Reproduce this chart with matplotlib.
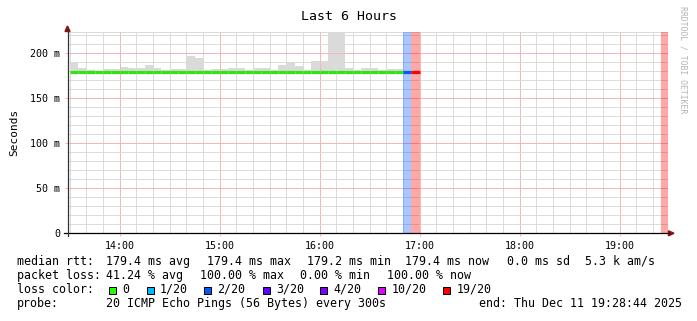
import matplotlib
matplotlib.use("Agg")
import matplotlib.pyplot as plt
import matplotlib.dates as mdates
from matplotlib.patches import Rectangle, Polygon
from matplotlib.lines import Line2D
from matplotlib.collections import LineCollection
from matplotlib.ticker import MultipleLocator, FixedLocator
import pandas as pd
import numpy as np

# ---------------- data ----------------
title = "Last 6 Hours"
end_time = pd.Timestamp("2025-12-11 19:28:44")
window_hours = 6
bin_minutes = 5

# 5-minute bins with measurements, starting 13:30
bin_times = pd.date_range("2025-12-11 13:30", periods=42, freq="5min")
smoke_max_ms = [189, 184, 181, 180.5, 183, 182, 184.5, 184, 183.5, 187,
                183.5, 181.5, 182, 182, 197.5, 194.5, 181, 182.3, 182.3, 183.7,
                184, 181.5, 184, 184, 181, 187, 190, 185.5, 181, 191,
                191, 230, 230, 184, 181, 184, 184, 181, 183, 182,
                180, 180]
smoke_min_ms = [179.0] * 42
median_ms = [179.4, 179.4, 179.4, 179.4, 179.4, 179.4, 179.4, 179.4, 179.4, 179.4,
             179.4, 179.4, 179.4, 179.4, 179.4, 179.4, 179.4, 179.4, 179.4, 179.4,
             179.4, 179.4, 179.4, 179.4, 179.4, 179.4, 179.4, 179.4, 179.4, 179.4,
             179.4, 179.4, 179.4, 179.4, 179.4, 179.4, 179.4, 179.4, 179.4, 179.4,
             179.4, 179.4]
loss_pings = [0] * 40 + [2, 19]
# later bin with total loss (no rtt)
late_loss_time = pd.Timestamp("2025-12-11 19:25")
late_loss_pings = 20

loss_levels = [0, 1, 2, 3, 4, 10, 19]
loss_labels = ["0", "1/20", "2/20", "3/20", "4/20", "10/20", "19/20"]
loss_colors = ["#26ff00", "#00b8ff", "#0059ff", "#5e00ff", "#7e00ff", "#dd00ff", "#ff0000"]

yticks_ms = [0, 50, 100, 150, 200]
ytick_labels = ["0", "50 m", "100 m", "150 m", "200 m"]

legend_line1 = [("median rtt:", 17), ("179.4 ms avg", 106.5), ("179.4 ms max", 207),
                ("179.2 ms min", 307), ("179.4 ms now", 405), ("0.0 ms sd", 507),
                ("5.3 k am/s", 585)]
legend_line2 = [("packet loss:", 17), ("41.24 % avg", 106.5), ("100.00 % max", 200),
                ("0.00 % min", 300), ("100.00 % now", 386.5)]
legend_line4 = [("probe:", 17), ("20 ICMP Echo Pings (56 Bytes) every 300s", 106.5),
                ("end: Thu Dec 11 19:28:44 2025", 479)]
square_x = [109.3, 146.7, 204, 262.7, 320.3, 378.3, 443.3]

# ---------------- layout ----------------
W, H = 697, 321
MONO = "DejaVu Sans Mono"
fig = plt.figure(figsize=(W / 100, H / 100), dpi=100)
fig.patch.set_facecolor("white")


def fx(px):
    return px / W


def fy(py):
    return 1 - py / H


ax_left, ax_right, ax_top, ax_bot = 67.5, 667.5, 32.3, 233.3
ax = fig.add_axes([fx(ax_left), fy(ax_bot), (ax_right - ax_left) / W, (ax_bot - ax_top) / H])
ax.set_facecolor("white")

start_time = end_time - pd.Timedelta(hours=window_hours)
ax.set_xlim(mdates.date2num(start_time), mdates.date2num(end_time))
ax.set_ylim(0, 223.3)

def loss_color(n):
    c = loss_colors[0]
    for lv, col in zip(loss_levels, loss_colors):
        if n >= lv:
            c = col
    return c

bw = bin_minutes / 1440.0
tnum = mdates.date2num(bin_times)

# smoke
ax.bar(tnum, np.array(smoke_max_ms) - np.array(smoke_min_ms), bottom=smoke_min_ms,
       width=bw, align="edge", color="#dadada", linewidth=0, zorder=1)

# loss bands
for t, n in zip(tnum, loss_pings):
    if n > 0:
        ax.axvspan(t, t + bw, color=loss_color(n), alpha=0.34, lw=0, zorder=2)
lt = mdates.date2num(late_loss_time)
ax.axvspan(lt, lt + bw, color=loss_color(late_loss_pings), alpha=0.34, lw=0, zorder=2)

# median line coloured by loss
segs, cols = [], []
for t, m, n in zip(tnum, median_ms, loss_pings):
    segs.append([(t, m), (t + bw, m)])
    c = loss_color(n)
    cols.append("#2ee60f" if n == 0 else c)
ax.add_collection(LineCollection(segs, colors=cols, linewidths=2.3, zorder=3,
                                 capstyle="butt"))

# grid
ax.xaxis.set_major_locator(mdates.HourLocator())
ax.xaxis.set_minor_locator(mdates.MinuteLocator(byminute=range(0, 60, 10)))
ax.xaxis.set_major_formatter(mdates.DateFormatter("%H:%M"))
ax.yaxis.set_major_locator(FixedLocator(yticks_ms))
ax.set_yticklabels(ytick_labels)
ax.yaxis.set_minor_locator(MultipleLocator(10))
ax.set_axisbelow("line")
ax.grid(which="minor", color="#dbdbdb", lw=0.72)
ax.grid(which="major", color="#f4b6b6", lw=0.72)
ax.axhline(223.3, color="#dbdbdb", lw=0.72, zorder=1.5)

ax.tick_params(which="major", length=2.2, width=0.72, color="#f4b6b6", pad=3.0,
               labelsize=7.2, labelcolor="black")
ax.tick_params(which="minor", length=0)
for lab in ax.get_xticklabels() + ax.get_yticklabels():
    lab.set_family(MONO)
for s in ax.spines.values():
    s.set_visible(False)

# axes lines and arrows (figure pixel coordinates)
fig.add_artist(Line2D([fx(64), fx(669)], [fy(ax_bot), fy(ax_bot)], color="black",
                      lw=0.9, transform=fig.transFigure))
fig.add_artist(Line2D([fx(ax_left), fx(ax_left)], [fy(ax_bot + 3), fy(29)], color="#333333",
                      lw=0.9, transform=fig.transFigure))
arrow_col = "#8b1010"
fig.add_artist(Polygon([(fx(65), fy(31.5)), (fx(70), fy(31.5)), (fx(ax_left), fy(26))],
                       closed=True, color=arrow_col, transform=fig.transFigure))
fig.add_artist(Polygon([(fx(668.5), fy(ax_bot - 2.5)), (fx(668.5), fy(ax_bot + 2.5)),
                        (fx(674), fy(ax_bot))],
                       closed=True, color=arrow_col, transform=fig.transFigure))

# title, ylabel, watermark
fig.text(fx(349.2), fy(20), title, ha="center", va="baseline", family=MONO, size=9.5)
fig.text(fx(14.5), fy((ax_top + ax_bot) / 2), "Seconds", rotation=90, ha="center",
         va="center", family=MONO, size=8)
fig.text(fx(683), fy(6), "RRDTOOL / TOBI OETIKER", rotation=270, ha="center", va="top",
         family=MONO, size=5.9, color="#b4b4b4")

# legend
LS = 8.4
for txt, x in legend_line1:
    fig.text(fx(x), fy(264.7), txt, family=MONO, size=LS, va="baseline")
for txt, x in legend_line2:
    fig.text(fx(x), fy(278.7), txt, family=MONO, size=LS, va="baseline")
fig.text(fx(17), fy(292.7), "loss color:", family=MONO, size=LS, va="baseline")
for sx, lab, col in zip(square_x, loss_labels, loss_colors):
    fig.add_artist(Rectangle((fx(sx), fy(293.5)), 7 / W, 7 / H, facecolor=col,
                             edgecolor="black", lw=0.72, transform=fig.transFigure))
    fig.text(fx(sx + 13.2), fy(292.7), lab, family=MONO, size=LS, va="baseline")
for txt, x in legend_line4:
    fig.text(fx(x), fy(306.7), txt, family=MONO, size=LS, va="baseline")

fig.savefig("out.png", dpi=100, facecolor="white")
